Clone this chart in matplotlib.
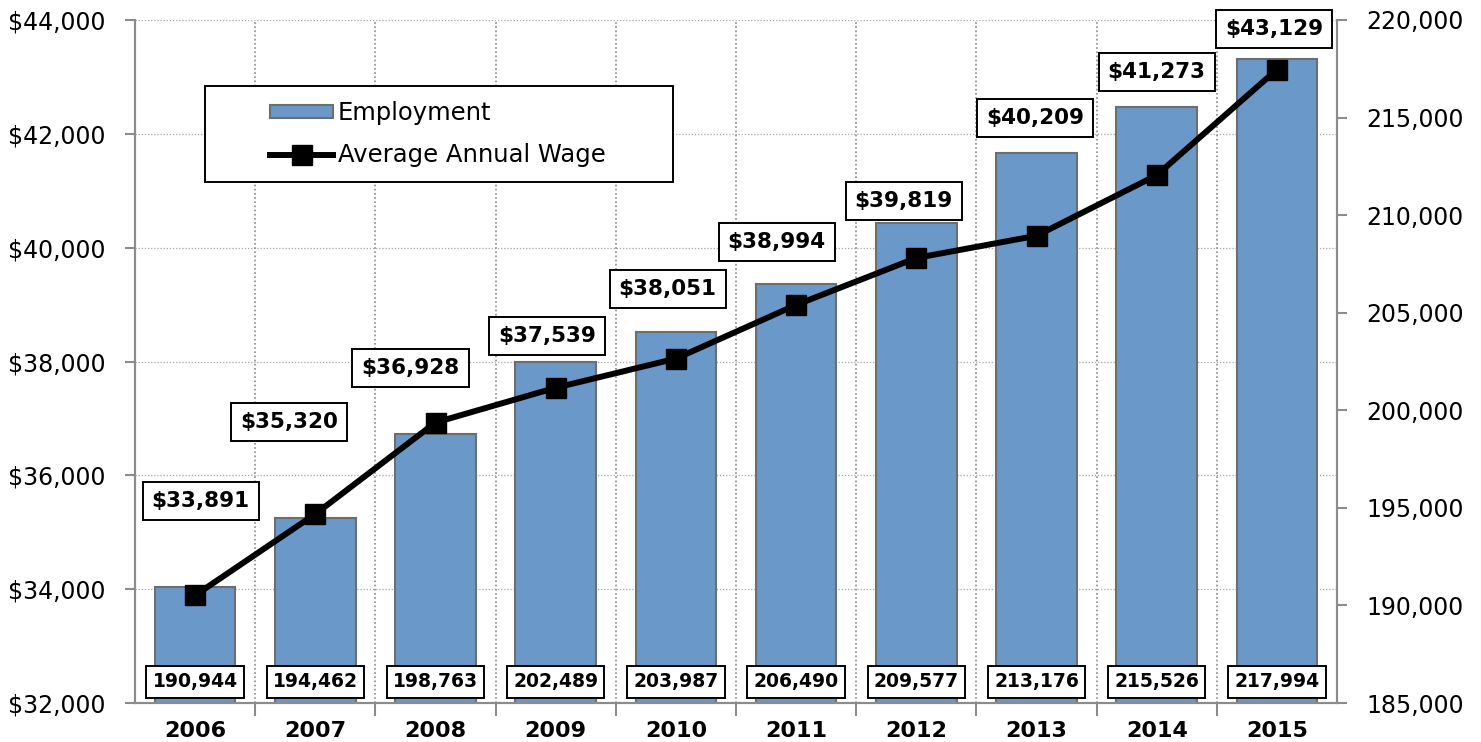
import numpy as np
import matplotlib
matplotlib.use("Agg")
import matplotlib.pyplot as plt
import matplotlib.transforms as mtransforms
from matplotlib.patches import Rectangle

years = ["2006", "2007", "2008", "2009", "2010", "2011", "2012", "2013", "2014", "2015"]
employment = [190944, 194462, 198763, 202489, 203987, 206490, 209577, 213176, 215526, 217994]
wages = [33891, 35320, 36928, 37539, 38051, 38994, 39819, 40209, 41273, 43129]

# label offsets (points) for the wage labels
wage_offsets = [(4, 68), (-19, 66), (-18, 39), (-6, 37), (-6, 50), (-14, 45),
                (-9, 41), (-1, 85), (0, 74), (-2, 29)]

bar_color = "#6A98C9"
edge_color = "#6E6E6E"
axis_color = "#8C8C8C"

plt.rcParams['font.family'] = ['DejaVu Sans']

W, H = 1481, 742
fig = plt.figure(figsize=(W / 100, H / 100), dpi=100)
ax = fig.add_axes([135 / W, 39 / H, 1202 / W, 683 / H])
ax2 = ax.twinx()

x = np.arange(len(years))

# bars on right axis, drawn below line axis
ax.set_zorder(2)
ax.patch.set_visible(False)
ax2.set_zorder(1)

ax2.bar(x, employment, width=0.67, bottom=0, color=bar_color, edgecolor=edge_color,
        linewidth=1.5, label="Employment", zorder=2)
ax2.set_ylim(185000, 220000)
ax2.set_yticks(np.arange(185000, 220001, 5000))
ax2.set_yticklabels([f"{v:,}" for v in range(185000, 220001, 5000)], fontsize=17)

ln, = ax.plot(x, wages, color="black", linewidth=4.3, marker="s", markersize=14.5,
              label="Average Annual Wage", zorder=4)
ax.set_ylim(32000, 44000)
ax.set_yticks(np.arange(32000, 44001, 2000))
ax.set_yticklabels([f"${v:,}" for v in range(32000, 44001, 2000)], fontsize=17)
ax.set_xlim(-0.5, len(years) - 0.5)

ax.set_xticks(x)
ax.set_xticklabels(years, fontsize=16, fontweight="bold")
ax.set_xticks(np.arange(0.5, len(years) - 0.5), minor=True)
ax.tick_params(axis="x", which="major", length=0, pad=13)
ax.tick_params(axis="x", which="minor", length=9, color=axis_color, width=1.5)
ax.tick_params(axis="y", length=7, color=axis_color, width=1.5, pad=14)
ax2.tick_params(axis="y", length=7, color=axis_color, width=1.5, pad=14)

# gridlines drawn on bar axis so they sit behind bars
for yv in np.arange(34000, 44001, 2000):
    yr = 185000 + (yv - 32000) / 12000 * 35000
    ax2.axhline(yr, color="#A8A8A8", linestyle=(0, (1, 1.5)), linewidth=0.9, zorder=0)
for xv in np.arange(0.5, len(years) - 0.5):
    ax2.axvline(xv, color="#8A8A8A", linestyle=(0, (1, 1.5)), linewidth=1.2, zorder=0)

for a in (ax, ax2):
    a.spines["top"].set_visible(False)
    for s in ("left", "right", "bottom"):
        a.spines[s].set_color(axis_color)
        a.spines[s].set_linewidth(1.5)

# wage labels
for xi, w, off in zip(x, wages, wage_offsets):
    ax.annotate(f"${w:,}", (xi, w), xytext=off, textcoords="offset points",
                ha="center", va="center", fontsize=15.5, fontweight="bold",
                bbox=dict(boxstyle="square,pad=0.42", fc="white", ec="black", lw=1.4),
                zorder=6)

# employment labels along bottom
trans = mtransforms.blended_transform_factory(ax.transData, ax.transAxes)
for xi, e in zip(x, employment):
    ax.text(xi, 0.031, f"{e:,}", transform=trans, ha="center", va="center",
            fontsize=13.5, fontweight="bold", zorder=6,
            bbox=dict(boxstyle="square,pad=0.33", fc="white", ec="black", lw=1.4))

# legend with wide custom frame
frame = Rectangle((205 / W, 1 - 182 / H), 468 / W, 96 / H, transform=fig.transFigure,
                  fc="white", ec="black", lw=1.4, zorder=6)
fig.patches.append(frame)
h1, l1 = ax2.get_legend_handles_labels()
leg = fig.legend(h1 + [ln], l1 + ["Average Annual Wage"], loc="center left",
                 bbox_to_anchor=(270 / W, 1 - 134 / H), fontsize=17.5, frameon=False,
                 labelspacing=0.75, handlelength=2.6, handleheight=0.45,
                 handletextpad=0.2, borderpad=0, borderaxespad=0)
leg.set_zorder(8)

fig.savefig("out.png", dpi=100)
